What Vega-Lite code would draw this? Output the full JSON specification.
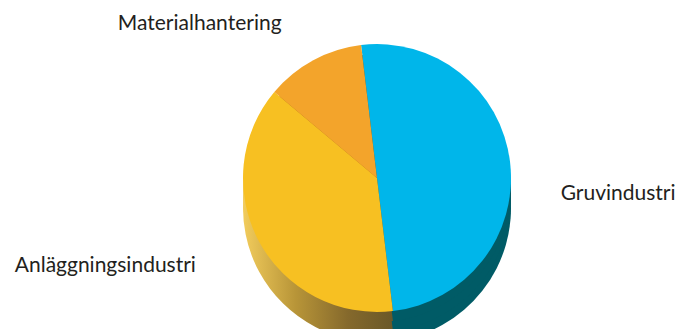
{
  "$schema": "https://vega.github.io/schema/vega-lite/v6.json",
  "autosize": "none",
  "padding": {"left": 69, "top": 27, "right": 0, "bottom": 0},
  "width": 616,
  "height": 302,
  "background": "white",
  "config": {"view": {"stroke": null}},
  "data": {
    "values": [
      {"category": "Gruvindustri", "share": 50},
      {"category": "Anläggningsindustri", "share": 38},
      {"category": "Materialhantering", "share": 12}
    ]
  },
  "encoding": {
    "theta": {"field": "share", "type": "quantitative", "stack": true, "scale": {"range": [-0.873, 5.410]}},
    "order": {"field": "category", "type": "nominal", "sort": "descending"}
  },
  "layer": [
    {
      "mark": {"type": "arc", "radius": 134, "yOffset": 30},
      "encoding": {
        "fill": {
          "condition": [
            {"test": "datum.category == 'Anläggningsindustri'", "value": {"gradient": "linear", "x1": 0, "x2": 1, "y1": 0, "y2": 0, "stops": [{"offset": 0, "color": "#f2cc5c"}, {"offset": 0.35, "color": "#b89538"}, {"offset": 0.7, "color": "#85692c"}, {"offset": 1, "color": "#6a5828"}]}},
            {"test": "datum.category == 'Gruvindustri'", "value": "#005b66"}
          ],
          "value": "#b07418"
        }
      }
    },
    {
      "mark": {"type": "arc", "radius": 134, "yOffset": 20},
      "encoding": {
        "fill": {
          "condition": [
            {"test": "datum.category == 'Anläggningsindustri'", "value": {"gradient": "linear", "x1": 0, "x2": 1, "y1": 0, "y2": 0, "stops": [{"offset": 0, "color": "#f2cc5c"}, {"offset": 0.35, "color": "#b89538"}, {"offset": 0.7, "color": "#85692c"}, {"offset": 1, "color": "#6a5828"}]}},
            {"test": "datum.category == 'Gruvindustri'", "value": "#005b66"}
          ],
          "value": "#b07418"
        }
      }
    },
    {
      "mark": {"type": "arc", "radius": 134, "yOffset": 10},
      "encoding": {
        "fill": {
          "condition": [
            {"test": "datum.category == 'Anläggningsindustri'", "value": {"gradient": "linear", "x1": 0, "x2": 1, "y1": 0, "y2": 0, "stops": [{"offset": 0, "color": "#f2cc5c"}, {"offset": 0.35, "color": "#b89538"}, {"offset": 0.7, "color": "#85692c"}, {"offset": 1, "color": "#6a5828"}]}},
            {"test": "datum.category == 'Gruvindustri'", "value": "#005b66"}
          ],
          "value": "#b07418"
        }
      }
    },
    {
      "mark": {"type": "arc", "radius": 134},
      "encoding": {
        "color": {
          "field": "category",
          "type": "nominal",
          "legend": null,
          "scale": {"domain": ["Gruvindustri", "Anläggningsindustri", "Materialhantering"], "range": ["#00b6ea", "#f7c022", "#f3a42b"]}
        }
      }
    },
    {
      "mark": {
        "type": "text",
        "radius": 190,
        "font": "Lato",
        "fontSize": 21,
        "color": "#231f20",
        "baseline": "middle",
        "align": {"expr": "datum.category == 'Gruvindustri' ? 'left' : 'right'"},
        "dx": {"expr": "datum.category == 'Anläggningsindustri' ? -14 : -5"},
        "dy": {"expr": "datum.category == 'Gruvindustri' ? 39 : (datum.category == 'Materialhantering' ? 13 : -2)"}
      },
      "encoding": {
        "text": {"field": "category", "type": "nominal"}
      }
    }
  ]
}
